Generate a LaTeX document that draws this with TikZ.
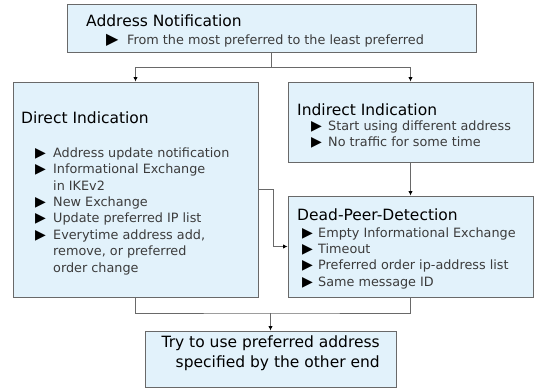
\documentclass[tikz,border=0pt]{standalone}
\usepackage{fontspec}
\setmainfont{DejaVu Sans}
\usetikzlibrary{arrows.meta}
\usepackage{xcolor}
\definecolor{boxfill}{RGB}{226,242,251}
\definecolor{boxline}{RGB}{105,105,105}
\definecolor{wirecol}{RGB}{105,105,105}
\definecolor{itemtext}{RGB}{60,60,60}
\newcommand{\tri}[2][17pt]{\makebox[#1][l]{\fontsize{#2}{#2}\selectfont\color{black}▶}}

\begin{document}
\begin{tikzpicture}[x=1pt,y=-1pt]
      \tikzstyle{block} = [rectangle, draw=boxline, fill=boxfill, line width=1pt, inner sep=0pt]
      \tikzstyle{title} = [anchor=base west, inner sep=0pt, font=\fontsize{15.5}{18}\selectfont]
      \tikzstyle{items} = [anchor=base west, inner sep=0pt, align=left, text=itemtext, font=\fontsize{12.8}{16.3}\selectfont]
      \tikzstyle{wire} = [draw=wirecol, line width=0.8pt]
      \tikzstyle{arr} = [-{Latex[length=4.5pt,width=4.5pt,color=black]}]

      \useasboundingbox (0,0) rectangle (535,388);

      % the base of a list is its last line
      \node[block, minimum width=409pt, minimum height=48pt] (an) at (271.5,28) {};
      \node[title] (antitle) at (86,26) {Address Notification};
      \node[items] (anitems) at (106,44) {\tri[21pt]{16}From the most preferred to the least preferred};

      \node[block, minimum width=245pt, minimum height=215pt] (di) at (135.5,189.5) {};
      \node[title] (dititle) at (21,123) {Direct Indication};
      \node[items, font=\fontsize{12.8}{16.4}\selectfont] (diitems) at (35,272)
        {\tri[18pt]{14}Address update notification\\
         \tri[18pt]{14}Informational Exchange\\
         \hspace*{18pt}in IKEv2\\
         \tri[18pt]{14}New Exchange\\
         \tri[18pt]{14}Update preferred IP list\\
         \tri[18pt]{14}Everytime address add,\\
         \hspace*{18pt}remove, or preferred\\
         \hspace*{18pt}order change};

      \node[block, minimum width=245pt, minimum height=80pt] (ii) at (410.5,122) {};
      \node[title] (iititle) at (297,115) {Indirect Indication};
      \node[items, font=\fontsize{12.8}{16}\selectfont] (iiitems) at (311,146)
        {\tri{14}Start using different address\\
         \tri{14}No traffic for some time};

      \node[block, minimum width=245pt, minimum height=101pt] (dpd) at (410.5,246.5) {};
      \node[title] (dpdtitle) at (297,220) {Dead-Peer-Detection};
      \node[items] (dpditems) at (302,286)
        {\tri[16pt]{14}Empty Informational Exchange\\
         \tri[16pt]{14}Timeout\\
         \tri[16pt]{14}Preferred order ip-address list\\
         \tri[16pt]{14}Same message ID};

      \node[block, minimum width=251pt, minimum height=56pt] (tr) at (270.5,359) {};
      \node[title, anchor=base east, align=right, font=\fontsize{15.5}{20}\selectfont] (trtext) at (380,367)
        {Try to use preferred address\\ specified by the other end};

      \coordinate (fork) at (271.5,67);
      \draw[wire] (an.south) -- (fork);
      \draw[wire, arr] (fork) -| (di.north);
      \draw[wire, arr] (fork) -| (ii.north);
      \draw[wire, arr] (ii.south) -- (dpd.north);
      \draw[wire, arr] (di.east) -- ++(15,0) |- (dpd.west);

      \coordinate (join) at (270.5,313);
      \draw[wire] (di.south) |- (join) -| (dpd.south);
      \draw[wire, arr] (join) -- (tr.north);
    \end{tikzpicture}
\end{document}
